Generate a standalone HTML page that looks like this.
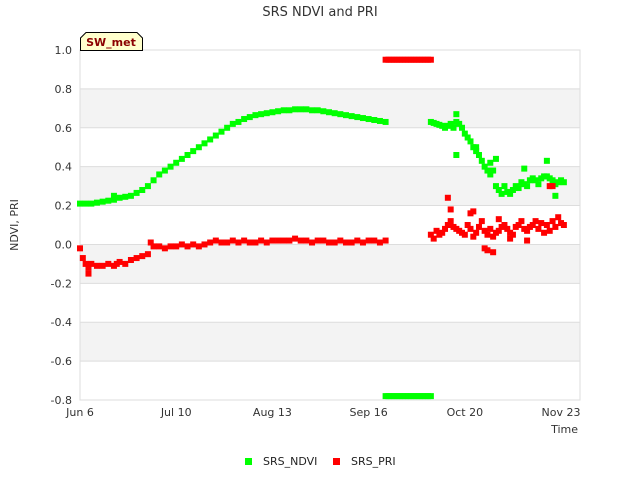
<!DOCTYPE html>
<html><head><meta charset="utf-8"><style>
body{margin:0;background:#fff;font-family:"Liberation Sans","DejaVu Sans",sans-serif}
</style></head><body>
<svg id="c" width="640" height="480" xmlns="http://www.w3.org/2000/svg" font-family="DejaVu Sans, Liberation Sans, sans-serif">
<text x="320" y="16" text-anchor="middle" font-size="13" fill="#333">SRS NDVI and PRI</text>
<g id="bands"></g><g id="grid"></g>
<rect x="80" y="50" width="500" height="350" fill="none" stroke="#ddd"/>
<g id="yt" font-size="11" fill="#333"></g><g id="xt" font-size="11" fill="#333"></g>
<text x="18" y="225" transform="rotate(-90 18 225)" text-anchor="middle" font-size="11" fill="#333">NDVI, PRI</text>
<text x="578" y="433" text-anchor="end" font-size="11" fill="#333">Time</text>
<g id="marks"></g>
<g>
<path d="M80.5,50.5 V38 L86,32.5 H137 L142.5,38 V50.5 Z" fill="#ffffcc" stroke="#000"/>
<text x="111" y="46" text-anchor="middle" font-size="11" font-weight="bold" fill="#8b0000">SW_met</text></g>
<g>
<rect x="245" y="458" width="7" height="7" fill="#00ff00"/>
<text x="263" y="465" font-size="11" fill="#222">SRS_NDVI</text>
<rect x="333" y="458" width="7" height="7" fill="#ff0000"/>
<text x="351" y="465" font-size="11" fill="#222">SRS_PRI</text></g>
</svg>
<script>
const yTicks=[1.0,0.8,0.6,0.4,0.2,0.0,-0.2,-0.4,-0.6,-0.8];
const yTickLabels=["1.0","0.8","0.6","0.4","0.2","0.0","-0.2","-0.4","-0.6","-0.8"];
const xTickDays=[0,34,68,102,136,170];
const xTickLabels=["Jun 6","Jul 10","Aug 13","Sep 16","Oct 20","Nov 23"];
const ndviDays=[0,2,4,6,8,10,12,14,16,18,20,22,24,26,28,30,32,34,36,38,40,42,44,46,48,50,52,54,56,58,60,62,64,66,68,70,72,74,76,78,80,82,84,86,88,90,92,94,96,98,100,102,104,106,108,12,
124,125,126,127,128,129,130,131,132,133,133,134,135,136,137,138,139,140,141,142,143,144,145,145,146,147,147,148,149,150,151,152,153,154,155,156,157,158,159,160,161,162,163,164,165,166,167,168,169,170,171,165,133,140,157,168];
const ndviVals=[.21,.21,.21,.215,.22,.225,.23,.24,.245,.25,.265,.28,.30,.33,.36,.38,.40,.42,.44,.46,.48,.50,.52,.54,.56,.58,.60,.62,.63,.645,.655,.665,.67,.675,.68,.685,.69,.69,.695,.695,.695,.69,.69,.685,.68,.675,.67,.665,.66,.655,.65,.645,.64,.635,.63,.25,
.63,.625,.62,.615,.61,.60,.61,.62,.60,.67,.63,.62,.60,.57,.55,.53,.50,.48,.46,.43,.40,.38,.42,.36,.38,.44,.30,.28,.26,.30,.27,.26,.28,.30,.29,.32,.31,.30,.33,.34,.33,.31,.34,.35,.35,.34,.33,.31,.32,.33,.32,.43,.46,.50,.39,.25];
const priDays=[0,1,2,3,4,6,8,10,12,13,14,16,18,20,22,24,25,26,28,30,32,34,36,38,40,42,44,46,48,50,52,54,56,58,60,62,64,66,68,70,72,74,76,78,80,82,84,86,88,90,92,94,96,98,100,102,104,106,108,3,
124,125,126,127,128,129,130,131,132,133,134,135,136,137,138,139,140,141,142,143,144,145,146,147,148,149,150,151,152,153,154,155,156,157,158,159,160,161,162,163,164,165,166,167,168,169,170,171,130,131,138,139,143,144,146,148,152,158,166,167];
const priVals=[-.02,-.07,-.10,-.12,-.10,-.11,-.11,-.10,-.11,-.10,-.09,-.10,-.08,-.07,-.06,-.05,.01,-.01,-.01,-.02,-.01,-.01,0,-.01,0,-.01,0,.01,.02,.01,.01,.02,.01,.02,.01,.01,.02,.01,.02,.02,.02,.02,.03,.02,.02,.01,.02,.02,.01,.01,.02,.01,.01,.02,.01,.02,.02,.01,.02,-.15,
.05,.03,.07,.05,.06,.08,.10,.12,.09,.08,.07,.06,.05,.10,.08,.04,.06,.09,.12,.07,.05,.08,.04,.06,.07,.09,.10,.08,.06,.05,.09,.10,.12,.08,.07,.09,.10,.12,.08,.11,.06,.10,.07,.12,.09,.14,.11,.10,.24,.18,.16,.17,-.02,-.03,-.04,.13,.03,.02,.30,.30];
const barDays=[108,109,110,111,112,113,114,115,116,117,118,119,120,121,122,123,124];
const priBarVal=0.95, ndviBarVal=-0.78;
const NS="http://www.w3.org/2000/svg";
const x=d=>80+d*500/176.7, y=v=>50+(1.0-v)*350/1.8;
function mk(tag,attrs,parent){const e=document.createElementNS(NS,tag);for(const k in attrs)e.setAttribute(k,attrs[k]);document.getElementById(parent).appendChild(e);return e;}
const shaded=[[0.8,0.6],[0.4,0.2],[0,-0.2],[-0.4,-0.6]];
shaded.forEach(b=>{const r=mk('rect',{x:80,y:y(b[0]),width:500,height:y(b[1])-y(b[0]),fill:'#f3f3f3'},'bands');

});
yTicks.forEach((v,i)=>{const l=mk('line',{x1:80,x2:580,y1:y(v),y2:y(v),stroke:'#ddd'},'grid');


const t=mk('text',{x:72,y:y(v)+4,'text-anchor':'end'},'yt');t.textContent=yTickLabels[i];

});
xTickDays.forEach((d,i)=>{const t=mk('text',{x:x(d),y:416,'text-anchor':'middle'},'xt');t.textContent=xTickLabels[i];

});
function pt(d,v,c,name){const r=mk('rect',{x:x(d)-3,y:y(v)-3,width:6,height:6,fill:c},'marks');

}
ndviDays.forEach((d,i)=>pt(d,ndviVals[i],'#00ff00','ndvi-point'));
barDays.forEach(d=>pt(d,ndviBarVal,'#00ff00','ndvi-point'));
priDays.forEach((d,i)=>pt(d,priVals[i],'#ff0000','pri-point'));
barDays.forEach(d=>pt(d,priBarVal,'#ff0000','pri-point'));
</script>
</body></html>
